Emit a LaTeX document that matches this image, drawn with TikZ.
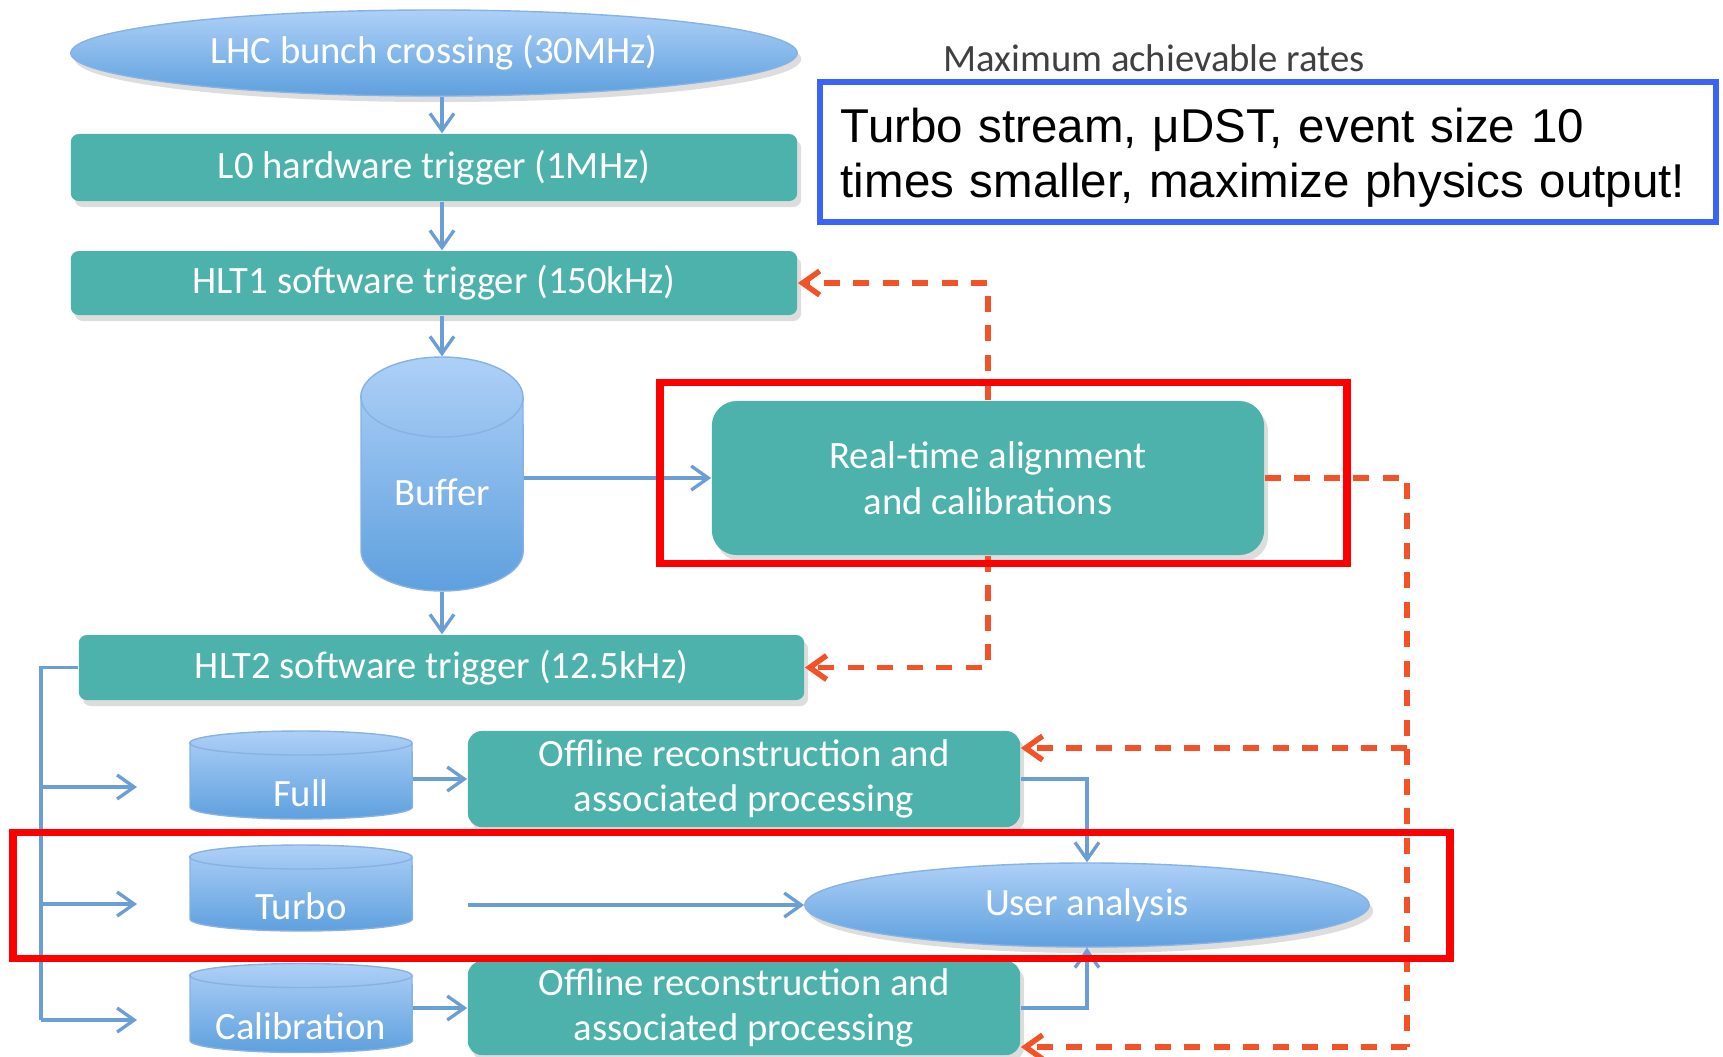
\documentclass[tikz,border=0pt]{standalone}
\usepackage{fontspec}
\setmainfont{Carlito}
\newfontfamily\arialf{Liberation Sans}
\usetikzlibrary{shapes.geometric,arrows.meta,shadows,calc}
\definecolor{tealbox}{RGB}{76,178,171}
\definecolor{bluetop}{RGB}{174,208,247}
\definecolor{bluebot}{RGB}{94,160,222}
\definecolor{lineblue}{RGB}{108,158,214}
\definecolor{dashred}{RGB}{243,82,40}
\definecolor{boxblue}{RGB}{58,100,245}
\definecolor{cyledge}{RGB}{135,178,226}
\tikzset{
  every node/.style={font=\fontsize{11pt}{13pt}\selectfont},
  softshadow/.style={drop shadow={shadow xshift=0.4mm, shadow yshift=-0.6mm, opacity=0.22, fill=black!60}},
  tealrect/.style={rectangle, fill=tealbox, text=white, softshadow, align=center, inner sep=0pt},
  blueell/.style={ellipse, top color=bluetop, bottom color=bluebot, draw=cyledge, line width=0.4pt, text=white, softshadow, inner sep=0pt},
  cylnode/.style={rectangle, inner sep=0pt, text=white, text height=0.62cm, text depth=0pt},
  flow/.style={draw=lineblue, line width=0.95pt, -{Straight Barb[length=1.7mm,width=2.4mm]}},
  plainflow/.style={draw=lineblue, line width=0.95pt},
  fb/.style={draw=dashred, line width=1.55pt, dash pattern=on 1.6mm off 1.35mm, -{Straight Barb[length=1.7mm,width=2.4mm]}},
  fbline/.style={draw=dashred, line width=1.55pt, dash pattern=on 1.6mm off 1.35mm},
  hilite/.style={draw=red, line width=2pt},
}
\newcommand\mycyl[7]{%
  \path[top color=bluetop, bottom color=bluebot, draw=cyledge, line width=0.4pt]
    (#2-#4/2, #3-#5/2+#6) -- (#2-#4/2, #3+#5/2-#6)
    arc[start angle=180, end angle=360, x radius=#4*0.005cm, y radius=#6*0.01cm]
    -- (#2+#4/2, #3-#5/2+#6)
    arc[start angle=0, end angle=180, x radius=#4*0.005cm, y radius=#6*0.01cm] -- cycle;
  \draw[cyledge, line width=0.4pt] (#2-#4/2, #3-#5/2+#6)
    arc[start angle=180, end angle=360, x radius=#4*0.005cm, y radius=#6*0.01cm];
  \node[cylnode, minimum width=#4*0.01cm, minimum height=#5*0.01cm] (#1) at (#2,#3) {#7};
}
\begin{document}
\begin{tikzpicture}[x=0.01cm, y=-0.01cm]
\useasboundingbox (0,0) rectangle (1723,1056);

% main chain
\node[blueell, minimum width=7.26cm, minimum height=0.86cm] (lhc) at (434,53) {LHC bunch crossing (30MHz)};
\node[tealrect, rounded corners=0.08cm, minimum width=7.26cm, minimum height=0.67cm] (l0) at (434,167.5) {L0 hardware trigger (1MHz)};
\node[tealrect, rounded corners=0.08cm, minimum width=7.26cm, minimum height=0.64cm] (hlt1) at (434,283) {HLT1 software trigger (150kHz)};
\mycyl{buffer}{442}{474}{162}{234}{40}{Buffer}
\node[tealrect, rounded corners=0.25cm, minimum width=5.52cm, minimum height=1.54cm] (rt) at (988,478) {Real-time alignment\\and calibrations};
\node[tealrect, rounded corners=0.08cm, minimum width=7.25cm, minimum height=0.65cm] (hlt2) at (441.5,667.5) {HLT2 software trigger (12.5kHz)};

% streams
\mycyl{full}{301}{775}{222}{88}{12}{Full}
\mycyl{turbo}{301}{888}{222}{86}{12}{Turbo}
\mycyl{calib}{301}{1008}{222}{89}{12}{Calibration}
\node[tealrect, rounded corners=0.14cm, minimum width=5.52cm, minimum height=0.96cm] (off1) at (744,779) {Offline reconstruction and\\associated processing};
\node[tealrect, rounded corners=0.14cm, minimum width=5.52cm, minimum height=0.94cm] (off2) at (744,1008) {Offline reconstruction and\\associated processing};
\node[blueell, minimum width=5.64cm, minimum height=0.84cm] (ua) at (1087,905) {User analysis};

% annotations
\node[text=black!75] (title) at (1154,58) {Maximum achievable rates};
\node[draw=boxblue, line width=0.06cm, text width=8.54cm, inner xsep=0.21cm, minimum height=1.40cm, align=left,
      font=\arialf\fontsize{13.5pt}{15.6pt}\selectfont] (note) at (1268,152)
      {\rule{0pt}{0.46cm}Turbo stream, μDST, event size 10\\times smaller, maximize physics output!};

% blue flow
\draw[flow] (lhc.south -| buffer.north) -- (l0.north -| buffer.north);
\draw[flow] (l0.south -| buffer.north) -- (hlt1.north -| buffer.north);
\draw[flow] (hlt1.south -| buffer.north) -- (buffer.north);
\draw[flow] (buffer.south) -- (hlt2.north -| buffer.south);
\draw[flow] (rt.west -| buffer.east) -- (rt.west);

\coordinate (busA) at (41,787);
\coordinate (busB) at (41,904);
\coordinate (busC) at (41,1020);
\coordinate (endA) at (137,787);
\coordinate (endB) at (137,904);
\coordinate (endC) at (137,1020);
\draw[plainflow] (hlt2.west) -| (busC);
\draw[flow] (busA) -- (endA);
\draw[flow] (busB) -- (endB);
\draw[flow] (busC) -- (endC);

\draw[flow] (off1.west -| full.east) -- (off1.west);
\draw[flow] (off2.west -| calib.east) -- (off2.west);
\coordinate (tstart) at (468,905);
\draw[flow] (tstart) -- (ua.west);
\draw[flow] (off1.east) -| (ua.north);
\draw[flow] (off2.east) -| (ua.south);

% red dashed feedback
\draw[fb] (rt.north) |- (hlt1.east);
\draw[fb] (rt.south) |- (hlt2.east);
\coordinate (rcorner) at (1407,478);
\coordinate (rmid) at (1407,748);
\coordinate (rbot) at (1407,1047);
\draw[fbline] (rt.east) -- (rcorner) -- (rbot);
\draw[fb] (rmid) -- (rmid -| off1.east);
\draw[fb] (rbot) -- (rbot -| off2.east);

% highlight boxes
\draw[hilite] (660,382) rectangle (1347,563);
\draw[hilite] (13,832) rectangle (1450,958);
\end{tikzpicture}
\end{document}
